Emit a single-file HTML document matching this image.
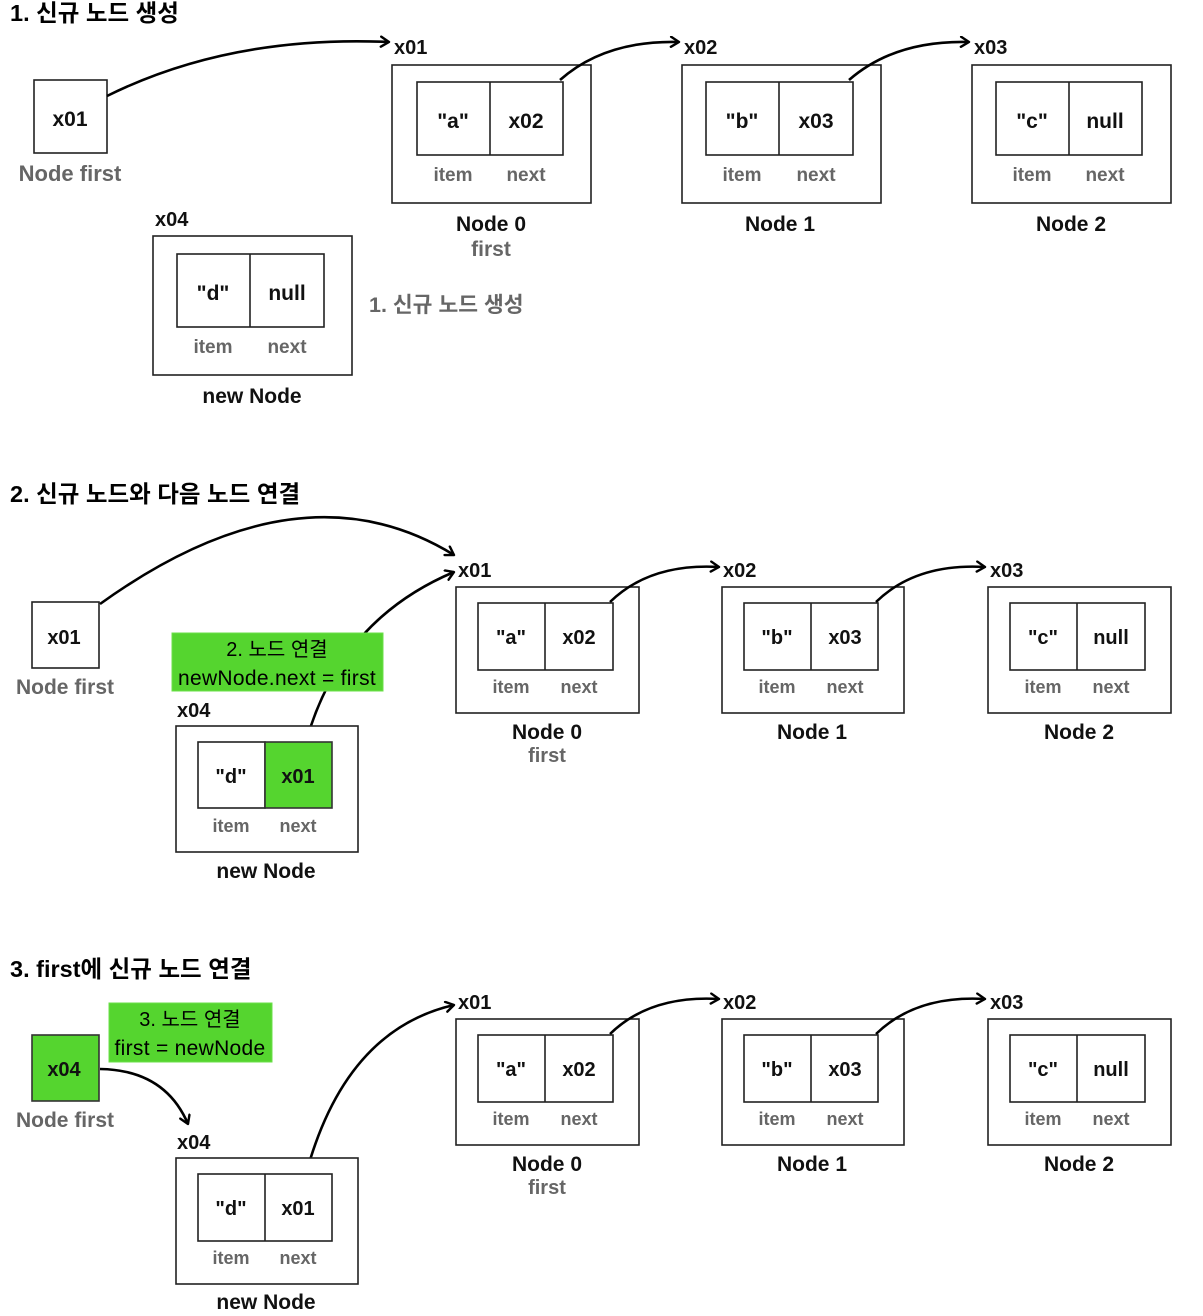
<!DOCTYPE html>
<html><head><meta charset="utf-8"><style>
html,body{margin:0;padding:0;background:#fff;}
svg{display:block;}
text{font-family:"Liberation Sans","Noto Sans CJK KR",sans-serif;}
.t{font-size:23.5px;font-weight:bold;fill:#000;}
.v{font-size:21px;font-weight:bold;fill:#111;text-anchor:middle;}
.l{font-size:19px;font-weight:bold;fill:#666;text-anchor:middle;}
.n{font-size:21px;font-weight:bold;fill:#111;text-anchor:middle;}
.a{font-size:20px;font-weight:bold;fill:#111;}
.g{font-size:21.5px;font-weight:bold;fill:#666;}
.bx{fill:#fff;stroke:#222;stroke-width:1.6;}
.gr{fill:#55d52f;stroke:#333;stroke-width:1.6;}
.ln{fill:none;stroke:#000;stroke-width:2.6;}
</style></head><body>
<svg width="1203" height="1316" viewBox="0 0 1203 1316" xmlns="http://www.w3.org/2000/svg">
<defs>
<marker id="m" markerWidth="14" markerHeight="14" refX="10" refY="6" orient="auto" markerUnits="userSpaceOnUse">
<path d="M2,1 L10,6 L2,11" fill="none" stroke="#000" stroke-width="2.4" stroke-linecap="round" stroke-linejoin="round"/>
</marker>
</defs>

<!-- ===== Section 1 ===== -->
<text class="t" x="10" y="21">1. 신규 노드 생성</text>
<rect class="bx" x="34" y="80" width="73" height="73"/>
<text class="v" x="70" y="126">x01</text>
<text class="l" x="70" y="181" style="font-size:22px">Node first</text>
<path class="ln" d="M107,96 Q230,35 389,42" marker-end="url(#m)"/>
<text class="a" x="394" y="54">x01</text>

<rect class="bx" x="392" y="65" width="199" height="138"/>
<rect class="bx" x="417" y="82" width="146" height="73"/>
<line x1="490" y1="82" x2="490" y2="155" stroke="#222" stroke-width="1.6"/>
<text class="v" x="453" y="128">"a"</text><text class="v" x="526" y="128">x02</text>
<text class="l" x="453" y="181">item</text><text class="l" x="526" y="181">next</text>
<text class="n" x="491" y="231">Node 0</text>
<text class="l" x="491" y="256" style="font-size:21px">first</text>

<rect class="bx" x="682" y="65" width="199" height="138"/>
<rect class="bx" x="706" y="82" width="147" height="73"/>
<line x1="779" y1="82" x2="779" y2="155" stroke="#222" stroke-width="1.6"/>
<text class="v" x="742" y="128">"b"</text><text class="v" x="816" y="128">x03</text>
<text class="l" x="742" y="181">item</text><text class="l" x="816" y="181">next</text>
<text class="n" x="780" y="231">Node 1</text>
<text class="a" x="684" y="54">x02</text>

<rect class="bx" x="972" y="65" width="199" height="138"/>
<rect class="bx" x="996" y="82" width="146" height="73"/>
<line x1="1069" y1="82" x2="1069" y2="155" stroke="#222" stroke-width="1.6"/>
<text class="v" x="1032" y="128">"c"</text><text class="v" x="1105" y="128">null</text>
<text class="l" x="1032" y="181">item</text><text class="l" x="1105" y="181">next</text>
<text class="n" x="1071" y="231">Node 2</text>
<text class="a" x="974" y="54">x03</text>

<path class="ln" d="M560,80 Q605,40 679,42" marker-end="url(#m)"/>
<path class="ln" d="M849,80 Q895,40 969,42" marker-end="url(#m)"/>

<text class="a" x="155" y="226">x04</text>
<rect class="bx" x="153" y="236" width="199" height="139"/>
<rect class="bx" x="177" y="254" width="147" height="73"/>
<line x1="250" y1="254" x2="250" y2="327" stroke="#222" stroke-width="1.6"/>
<text class="v" x="213" y="300">"d"</text><text class="v" x="287" y="300">null</text>
<text class="l" x="213" y="353">item</text><text class="l" x="287" y="353">next</text>
<text class="n" x="252" y="403">new Node</text>
<text class="g" x="369" y="312">1. 신규 노드 생성</text>

<!-- ===== Section 2 ===== -->
<text class="t" x="10" y="502">2. 신규 노드와 다음 노드 연결</text>
<rect class="bx" x="32" y="602" width="67" height="66"/>
<text class="v" x="64" y="644" style="font-size:20px">x01</text>
<text class="l" x="65" y="694" style="font-size:21px">Node first</text>
<path class="ln" d="M100,604 Q300,460 454,555" marker-end="url(#m)"/>

<g>
<rect class="bx" x="456" y="587" width="183" height="126"/>
<rect class="bx" x="478" y="603" width="135" height="67"/>
<line x1="545" y1="603" x2="545" y2="670" stroke="#222" stroke-width="1.6"/>
<text class="v" x="511" y="644" style="font-size:20px">"a"</text><text class="v" x="579" y="644" style="font-size:20px">x02</text>
<text class="l" x="511" y="693" style="font-size:18px">item</text><text class="l" x="579" y="693" style="font-size:18px">next</text>
<text class="n" x="547" y="739">Node 0</text>
<text class="l" x="547" y="762" style="font-size:20px">first</text>
<text class="a" x="458" y="577" style="font-size:20px">x01</text>

<rect class="bx" x="722" y="587" width="182" height="126"/>
<rect class="bx" x="744" y="603" width="134" height="67"/>
<line x1="811" y1="603" x2="811" y2="670" stroke="#222" stroke-width="1.6"/>
<text class="v" x="777" y="644" style="font-size:20px">"b"</text><text class="v" x="845" y="644" style="font-size:20px">x03</text>
<text class="l" x="777" y="693" style="font-size:18px">item</text><text class="l" x="845" y="693" style="font-size:18px">next</text>
<text class="n" x="812" y="739">Node 1</text>
<text class="a" x="723" y="577" style="font-size:20px">x02</text>

<rect class="bx" x="988" y="587" width="183" height="126"/>
<rect class="bx" x="1010" y="603" width="135" height="67"/>
<line x1="1077" y1="603" x2="1077" y2="670" stroke="#222" stroke-width="1.6"/>
<text class="v" x="1043" y="644" style="font-size:20px">"c"</text><text class="v" x="1111" y="644" style="font-size:20px">null</text>
<text class="l" x="1043" y="693" style="font-size:18px">item</text><text class="l" x="1111" y="693" style="font-size:18px">next</text>
<text class="n" x="1079" y="739">Node 2</text>
<text class="a" x="990" y="577" style="font-size:20px">x03</text>

<path class="ln" d="M610,602 Q650,563 719,567" marker-end="url(#m)"/>
<path class="ln" d="M876,602 Q916,563 985,567" marker-end="url(#m)"/>
</g>

<path class="ln" d="M306,742 Q340,620 454,572" marker-end="url(#m)"/>
<rect x="172" y="633" width="211" height="58" fill="#55d52f" stroke="#6be04a" stroke-width="1"/>
<text class="v" x="277" y="656" style="font-size:20px;font-weight:normal;fill:#000">2. 노드 연결</text>
<text class="v" x="277" y="685" style="font-size:21px;font-weight:normal;fill:#000;letter-spacing:0.3px">newNode.next = first</text>

<text class="a" x="177" y="717" style="font-size:20px">x04</text>
<rect class="bx" x="176" y="726" width="182" height="126"/>
<rect class="bx" x="198" y="742" width="67" height="66"/>
<rect class="gr" x="265" y="742" width="67" height="66"/>
<text class="v" x="231" y="783" style="font-size:20px">"d"</text><text class="v" x="298" y="783" style="font-size:20px">x01</text>
<text class="l" x="231" y="832" style="font-size:18px">item</text><text class="l" x="298" y="832" style="font-size:18px">next</text>
<text class="n" x="266" y="878">new Node</text>

<!-- ===== Section 3 ===== -->
<text class="t" x="10" y="977">3. first에 신규 노드 연결</text>
<rect class="gr" x="32" y="1035" width="67" height="66"/>
<text class="v" x="64" y="1076" style="font-size:20px">x04</text>
<text class="l" x="65" y="1127" style="font-size:21px">Node first</text>
<rect x="109" y="1003" width="163" height="59" fill="#55d52f" stroke="#6be04a" stroke-width="1"/>
<text class="v" x="190" y="1026" style="font-size:20px;font-weight:normal;fill:#000">3. 노드 연결</text>
<text class="v" x="190" y="1055" style="font-size:21px;font-weight:normal;fill:#000;letter-spacing:0.3px">first = newNode</text>
<path class="ln" d="M100,1069 Q165,1070 188,1124" marker-end="url(#m)"/>

<g transform="translate(0,432)">
<rect class="bx" x="456" y="587" width="183" height="126"/>
<rect class="bx" x="478" y="603" width="135" height="67"/>
<line x1="545" y1="603" x2="545" y2="670" stroke="#222" stroke-width="1.6"/>
<text class="v" x="511" y="644" style="font-size:20px">"a"</text><text class="v" x="579" y="644" style="font-size:20px">x02</text>
<text class="l" x="511" y="693" style="font-size:18px">item</text><text class="l" x="579" y="693" style="font-size:18px">next</text>
<text class="n" x="547" y="739">Node 0</text>
<text class="l" x="547" y="762" style="font-size:20px">first</text>
<text class="a" x="458" y="577" style="font-size:20px">x01</text>

<rect class="bx" x="722" y="587" width="182" height="126"/>
<rect class="bx" x="744" y="603" width="134" height="67"/>
<line x1="811" y1="603" x2="811" y2="670" stroke="#222" stroke-width="1.6"/>
<text class="v" x="777" y="644" style="font-size:20px">"b"</text><text class="v" x="845" y="644" style="font-size:20px">x03</text>
<text class="l" x="777" y="693" style="font-size:18px">item</text><text class="l" x="845" y="693" style="font-size:18px">next</text>
<text class="n" x="812" y="739">Node 1</text>
<text class="a" x="723" y="577" style="font-size:20px">x02</text>

<rect class="bx" x="988" y="587" width="183" height="126"/>
<rect class="bx" x="1010" y="603" width="135" height="67"/>
<line x1="1077" y1="603" x2="1077" y2="670" stroke="#222" stroke-width="1.6"/>
<text class="v" x="1043" y="644" style="font-size:20px">"c"</text><text class="v" x="1111" y="644" style="font-size:20px">null</text>
<text class="l" x="1043" y="693" style="font-size:18px">item</text><text class="l" x="1111" y="693" style="font-size:18px">next</text>
<text class="n" x="1079" y="739">Node 2</text>
<text class="a" x="990" y="577" style="font-size:20px">x03</text>

<path class="ln" d="M610,602 Q650,563 719,567" marker-end="url(#m)"/>
<path class="ln" d="M876,602 Q916,563 985,567" marker-end="url(#m)"/>
</g>

<path class="ln" d="M306,1174 Q345,1030 454,1005" marker-end="url(#m)"/>
<text class="a" x="177" y="1149" style="font-size:20px">x04</text>
<rect class="bx" x="176" y="1158" width="182" height="126"/>
<rect class="bx" x="198" y="1174" width="134" height="67"/>
<line x1="265" y1="1174" x2="265" y2="1241" stroke="#222" stroke-width="1.6"/>
<text class="v" x="231" y="1215" style="font-size:20px">"d"</text><text class="v" x="298" y="1215" style="font-size:20px">x01</text>
<text class="l" x="231" y="1264" style="font-size:18px">item</text><text class="l" x="298" y="1264" style="font-size:18px">next</text>
<text class="n" x="266" y="1309">new Node</text>
</svg>
</body></html>
